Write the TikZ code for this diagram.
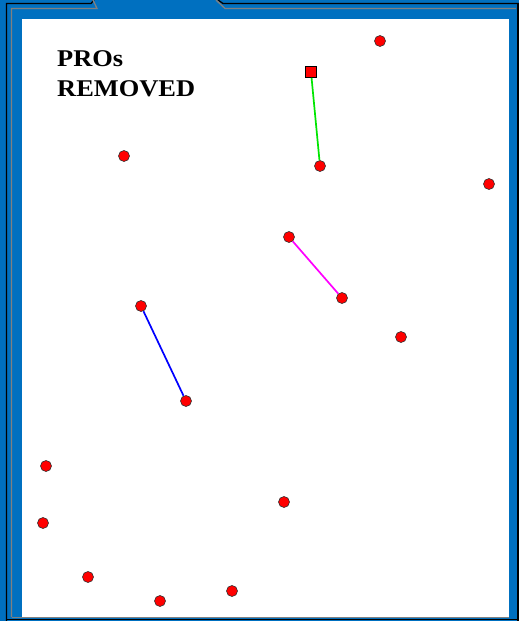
\documentclass[tikz,border=0pt]{standalone}
\usepackage{fontspec}
\usepackage{graphicx}
\setmainfont{Liberation Serif}
\definecolor{frameblue}{RGB}{0,112,192}
\definecolor{framegray}{RGB}{128,128,128}
\definecolor{dotred}{RGB}{255,0,0}
\definecolor{linkgreen}{RGB}{0,230,0}
\definecolor{linkmagenta}{RGB}{255,0,255}
\definecolor{linkblue}{RGB}{0,0,255}
\tikzset{
  pt/.style={circle,fill=dotred,draw=black!80,line width=0.6pt,inner sep=0pt,minimum size=11pt},
  sq/.style={rectangle,fill=dotred,draw=black,line width=0.8pt,inner sep=0pt,minimum size=11pt},
  link/.style={line width=1.7pt},
  lbl/.style={anchor=base west,inner sep=0pt,font=\fontsize{24}{28}\selectfont\bfseries}
}
\begin{document}
\begin{tikzpicture}[x=1pt,y=-1pt]
\useasboundingbox (0,0) rectangle (519,621);
% frame
\fill[frameblue] (0,0) rectangle (519,621);
\fill[white] (22,19) rectangle (509,617);
\draw[black,line width=1.3pt] (6.5,621) -- (6.5,3.5) -- (91,3.5) -- (94,0);
\draw[black,line width=1.3pt] (218,0) -- (223,3.5) -- (519,3.5);
\draw[black,line width=1.3pt] (518,3.5) -- (518,621);
\draw[black,line width=1.3pt] (6,619.5) -- (519,619.5);
\draw[framegray,line width=1.3pt] (11.5,617) -- (11.5,8.5) -- (97,8.5) -- (93,0);
\draw[framegray,line width=1.3pt] (216,0) -- (225,8.5) -- (516,8.5);
\draw[framegray,line width=1pt] (11.5,617.2) -- (509,617.2);
% title
\node[lbl] (t1) at (57,66.7) {\scalebox{1.1}[1]{PROs}};
\node[lbl] (t2) at (57,96) {\scalebox{1.1}[1]{REMOVED}};
% points
\node[sq] (s1) at (311,72) {};
\node[pt] (a1) at (320,166) {};
\node[pt] (b1) at (289,237) {};
\node[pt] (b2) at (342,298) {};
\node[pt] (c1) at (141,306) {};
\node[pt] (c2) at (186,401) {};
\node[pt] (p1) at (380,41) {};
\node[pt] (p2) at (124,156) {};
\node[pt] (p3) at (489,184) {};
\node[pt] (p4) at (401,337) {};
\node[pt] (p5) at (46,466) {};
\node[pt] (p6) at (43,523) {};
\node[pt] (p7) at (284,502) {};
\node[pt] (p8) at (88,577) {};
\node[pt] (p9) at (160,601) {};
\node[pt] (p10) at (232,591) {};
% links
\draw[link,linkgreen] (s1) -- (a1);
\draw[link,linkmagenta] (b1) -- (b2);
\draw[link,linkblue] (c1) -- (c2);
\end{tikzpicture}
\end{document}
